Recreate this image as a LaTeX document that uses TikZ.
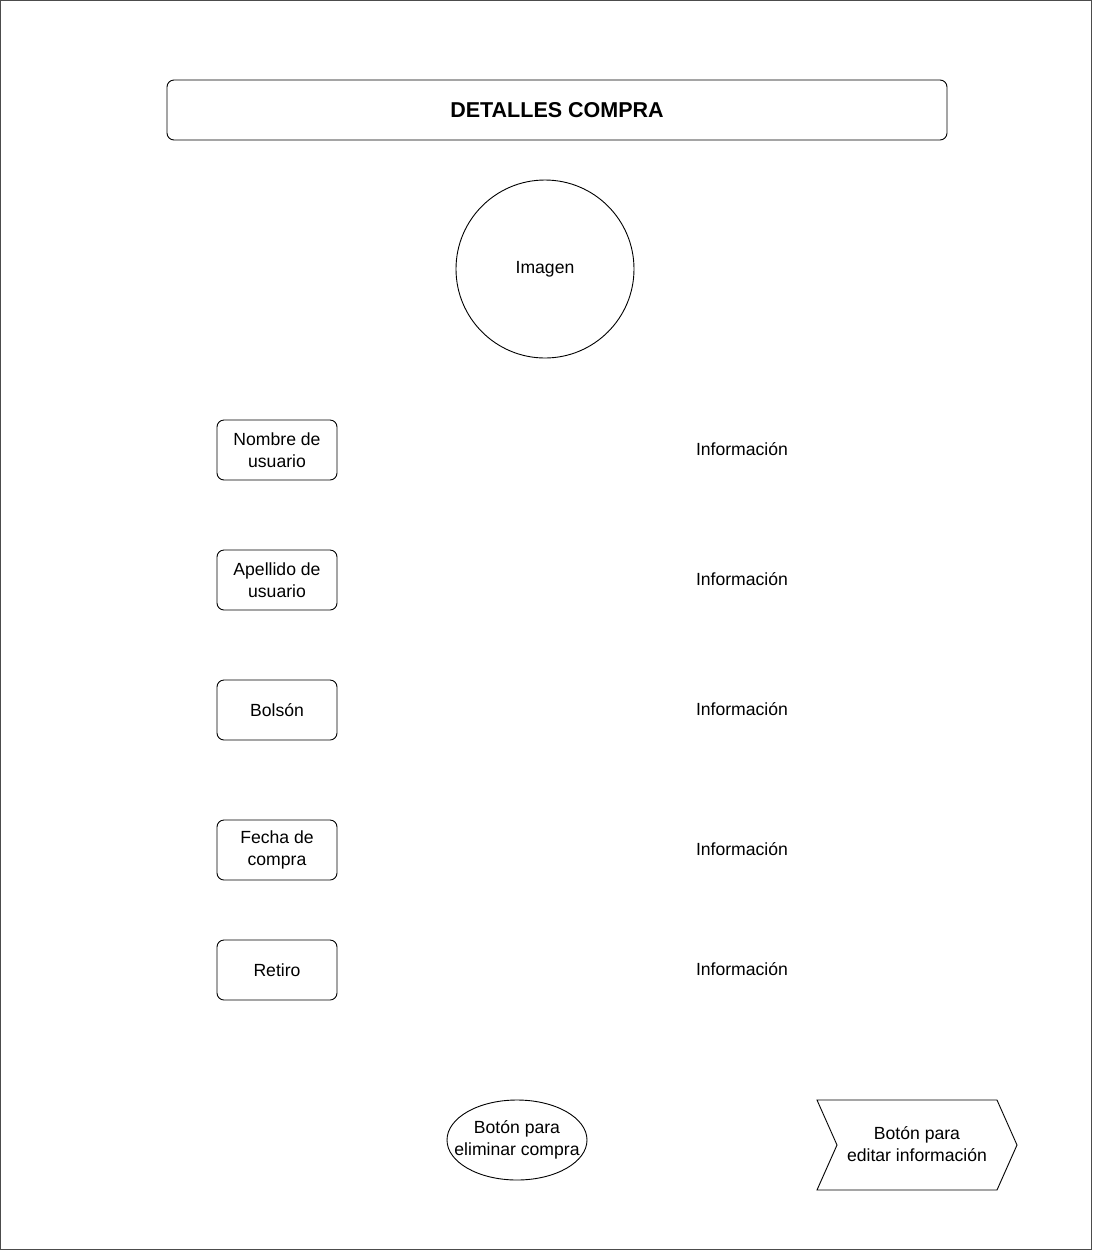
\documentclass[tikz,border=0pt]{standalone}
\usepackage{fontspec}
\setmainfont{Liberation Sans}
\usetikzlibrary{shapes.geometric}

\tikzset{
  campo/.style={draw, rounded corners=7pt, minimum width=120pt, minimum height=60pt, align=center},
  info/.style={align=center},
}

\begin{document}
\begin{tikzpicture}[x=1pt, y=-1pt, line width=0.9pt, font=\fontsize{17.6}{22}\selectfont]
\useasboundingbox (0,0) rectangle (1093,1251);
\draw[black!70] (0.5,0.5) rectangle (1091,1249.5);
\node[draw, rounded corners=7pt, minimum width=780pt, minimum height=60pt, font=\fontsize{21.5}{26}\selectfont\bfseries] (titulo) at (557,110) {DETALLES COMPRA};
\node[draw, circle, minimum size=178pt] (imagen) at (545,269) {Imagen};

\node[campo] (nombre) at (277,450) {Nombre de\\usuario};
\node[campo] (apellido) at (277,580) {Apellido de\\usuario};
\node[campo] (bolson) at (277,710) {Bolsón};
\node[campo] (fecha) at (277,850) {Fecha de\\compra};
\node[campo] (retiro) at (277,970) {Retiro};

\node[info] (info1) at (742,449) {Información};
\node[info] (info2) at (742,579) {Información};
\node[info] (info3) at (742,709) {Información};
\node[info] (info4) at (742,849) {Información};
\node[info] (info5) at (742,969) {Información};

\node[draw, ellipse, minimum width=140pt, minimum height=80pt] (eliminar) at (517,1140) {};
\node[align=center] (eliminartxt) at (eliminar) {Botón para\\eliminar compra};

% boton de editar
\draw (817,1100) -- (997,1100) -- (1017,1145) -- (997,1190) -- (817,1190) -- (837,1145) -- cycle;
\node[align=center] (editar) at (917,1144) {Botón para\\editar información};
\end{tikzpicture}
\end{document}
